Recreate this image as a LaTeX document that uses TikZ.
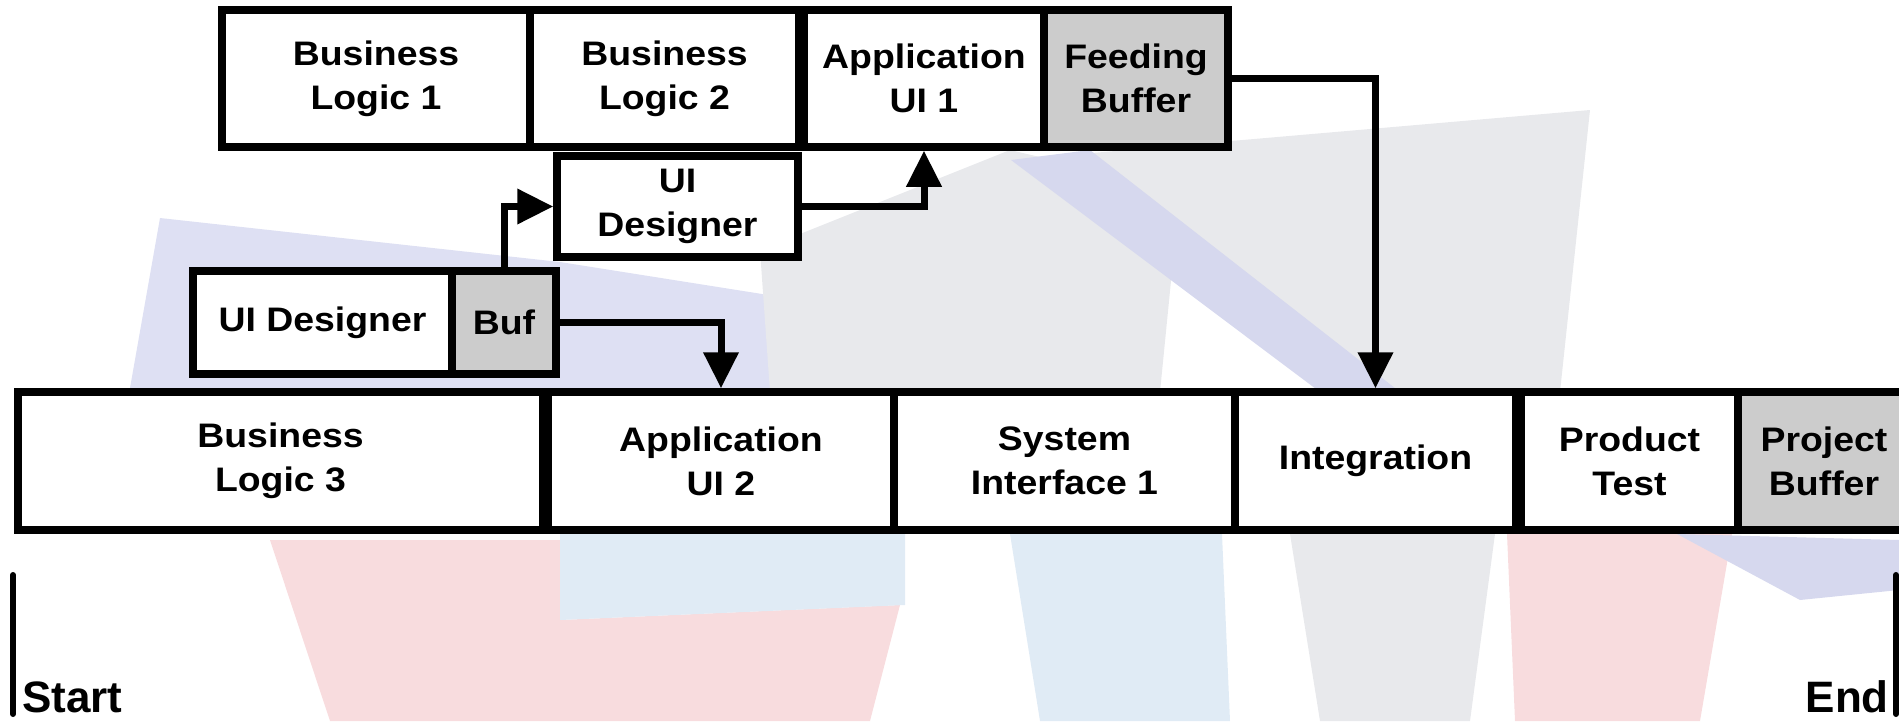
\documentclass[tikz,border=0pt]{standalone}
\usepackage{fontspec}
\setmainfont{Liberation Sans}
\newfontfamily\boxfont[FakeStretch=1.1]{Liberation Sans}
\usetikzlibrary{arrows.meta}
\definecolor{bufgray}{HTML}{CCCCCC}
\definecolor{wmlav}{HTML}{DEE0F3}
\definecolor{wmgray}{HTML}{E8E9EC}
\definecolor{wmpink}{HTML}{F8DCDE}
\definecolor{wmlblue}{HTML}{E0EBF5}
\definecolor{wmband}{HTML}{D6D8EE}
\tikzset{
  box/.style 2 args={draw=black, line width=7.5pt, fill=white, minimum width=#1pt, minimum height=#2pt,
    inner sep=0pt, align=center, font=\boxfont\bfseries\fontsize{34}{44}\selectfont},
  bufbox/.style 2 args={box={#1}{#2}, fill=bufgray},
  arr/.style={draw=black, line width=7pt, -{Triangle[length=36pt,width=34pt]}},
  marker/.style={draw=black, line width=6pt, line cap=round},
  endlabel/.style={inner sep=0pt, font=\bfseries\fontsize{44}{50}\selectfont}
}
\begin{document}
\begin{tikzpicture}[x=1pt,y=-1pt]
\useasboundingbox (0,0) rectangle (1899,721);
% faint watermark in the background
\fill[wmlav] (160,218) -- (560,262) -- (800,300) -- (800,392) -- (130,388) -- cycle;
\fill[wmgray] (760,250) -- (1010,150) -- (1180,190) -- (1160,392) -- (770,392) -- cycle;
\fill[wmgray] (1011,160) -- (1590,110) -- (1560,392) -- (1380,392) -- cycle;
\fill[wmband] (1011,160) -- (1090,150) -- (1400,392) -- (1320,392) -- cycle;
\fill[wmpink] (270,540) -- (560,540) -- (560,620) -- (900,605) -- (870,721) -- (330,721) -- cycle;
\fill[wmlblue] (560,534) -- (905,534) -- (905,605) -- (560,620) -- cycle;
\fill[wmlblue] (1010,534) -- (1222,534) -- (1230,721) -- (1040,721) -- cycle;
\fill[wmgray] (1290,534) -- (1495,534) -- (1470,721) -- (1320,721) -- cycle;
\fill[wmpink] (1507,534) -- (1732,534) -- (1700,721) -- (1515,721) -- cycle;
\fill[wmband] (1677,534) -- (1899,540) -- (1899,590) -- (1800,600) -- cycle;

% top chain
\node[box={308}{137}] (bl1) at (376,78.5) {Business\\Logic 1};
\node[box={269}{137}] (bl2) at (664.5,78.5) {Business\\Logic 2};
\node[box={240}{137}] (au1) at (924,78.5) {Application\\UI 1};
\node[bufbox={184}{137}] (fb) at (1136,78.5) {Feeding\\Buffer};
% UI designer chain
\node[box={241}{101}] (uid2) at (677.5,206.5) {UI\\Designer};
\node[box={259}{103}] (uid1) at (322.5,322.5) {UI Designer};
\node[bufbox={104}{103}] (buf) at (504,322.5) {Buf};
% critical chain
\node[box={525}{138}] (bl3) at (280.5,461) {Business\\Logic 3};
\node[box={346}{138}] (au2) at (721,461) {Application\\UI 2};
\node[box={341}{138}] (si1) at (1064.5,461) {System\\Interface 1};
\node[box={281}{138}] (integ) at (1375.5,461) {Integration};
\node[box={217}{138}] (pt) at (1629.5,461) {Product\\Test};
\node[bufbox={172}{138}] (pb) at (1824,461) {Project\\Buffer};

% connectors
\draw[arr] (buf.north) |- (uid2.west);
\draw[arr] (uid2.east) -| (au1.south);
\draw[arr] (buf.east) -| (au2.north);
\draw[arr] (fb.east) -| (integ.north);

% start / end markers
\coordinate (s1) at (13,575);
\coordinate (s2) at (13,714);
\coordinate (e1) at (1896,575);
\coordinate (e2) at (1896,714);
\draw[marker] (s1) -- (s2);
\draw[marker] (e1) -- (e2);
\node[endlabel, anchor=base west] (start) at (22,712) {Start};
\node[endlabel, anchor=base east] (end) at (1889,712) {End};
\end{tikzpicture}
\end{document}
